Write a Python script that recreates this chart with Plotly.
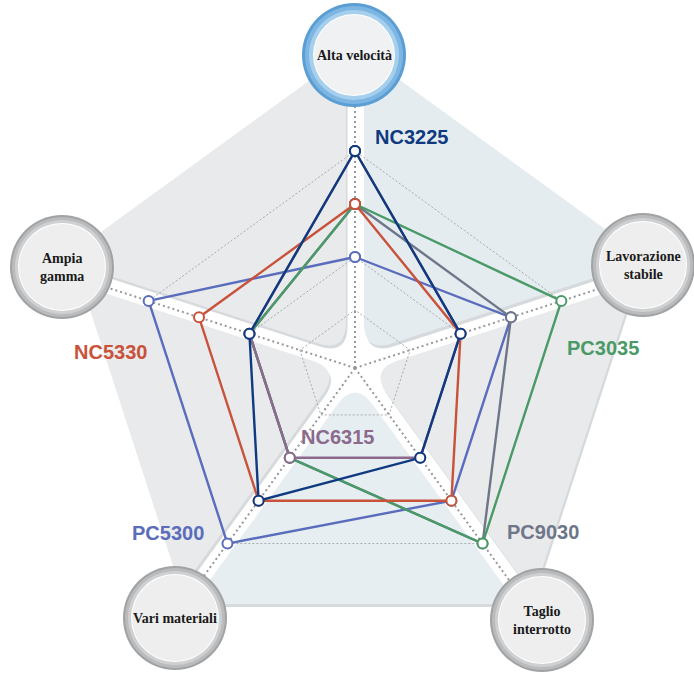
import math
import plotly.graph_objects as go

# categories clockwise from the top
categories = ["Alta velocità", "Lavorazione stabile", "Taglio interrotto", "Vari materiali", "Ampia gamma"]
circle_text = ["Alta velocità", "Lavorazione<br>stabile", "Taglio<br>interrotto", "Vari materiali", "Ampia<br>gamma"]

pc5300 = [2, 3, 3, 4, 4]
pc9030 = [3, 3, 4, 2, 2]
pc3035 = [3, 4, 4, 2, 2]
nc5330 = [3, 2, 3, 3, 3]
nc6315 = [4, 2, 2, 2, 2]
nc3225 = [4, 2, 2, 3, 2]
grid_levels = [1, 2, 3, 4]

# drawing order, bottom first
series = [
    ("PC5300", pc5300, "#5a6dbd"),
    ("PC9030", pc9030, "#6e7689"),
    ("PC3035", pc3035, "#4a9a68"),
    ("NC5330", nc5330, "#c8523a"),
    ("NC6315", nc6315, "#8b6a8d"),
    ("NC3225", nc3225, "#0f3a80"),
]

W, H = 694, 673
CX, CY = 355, 368
UNIT, OFFS = 53.0, 5.0
R0 = -OFFS / UNIT
RPX = 300
RMAX = R0 + RPX / UNIT

fig = go.Figure()

# invisible trace so the pixel-space cartesian axes exist for the background shapes
fig.add_trace(go.Scatter(x=[0, W], y=[0, H], mode="none", hoverinfo="skip", showlegend=False))


def sector_path(theta_a, apothem, w=9, rho=30, dx=0.0, dy=-3.0):
    ta = math.radians(theta_a)
    tb = math.radians(theta_a - 72)
    ua = (math.cos(ta), math.sin(ta))
    ub = (math.cos(tb), math.sin(tb))
    na = (math.sin(ta), -math.cos(ta))
    nb = (-math.sin(tb), math.cos(tb))
    s36, c36 = math.sin(math.radians(36)), math.cos(math.radians(36))
    s0 = w / math.tan(math.radians(36))
    s1 = (apothem - w * s36) / c36

    def pa(s):
        return (s * ua[0] + w * na[0], s * ua[1] + w * na[1])

    def pb(s):
        return (s * ub[0] + w * nb[0], s * ub[1] + w * nb[1])

    apex = pa(s0)
    pts = [pa(s0 + rho), pa(s1), pb(s1), pb(s0 + rho)]

    def px(p):
        return "%.1f,%.1f" % (CX + p[0] + dx, CY - p[1] + dy)

    return ("M" + px(pts[0]) + " L" + px(pts[1]) + " L" + px(pts[2]) + " L" + px(pts[3])
            + " Q" + px(apex) + " " + px(pts[0]) + " Z")


sectors = [
    (90, 257, "#e5ecf0"),
    (18, 241, "#e9eaeb"),
    (-54, 239, "#e7eef2"),
    (-126, 235, "#e9eaeb"),
    (162, 257, "#e9eaeb"),
]
shapes = []
for th, ap, col in sectors:
    shapes.append(dict(type="path", path=sector_path(th, ap, dx=1.5, dy=0.0), xref="x", yref="y",
                       fillcolor="#d6dadd", line=dict(width=0), layer="below"))
for th, ap, col in sectors:
    shapes.append(dict(type="path", path=sector_path(th, ap), xref="x", yref="y",
                       fillcolor=col, line=dict(width=0), layer="below"))

# label badges
badge_pos = [(354, 55), (643, 265), (542, 620), (175, 618), (62, 267)]
for i, (bx, by) in enumerate(badge_pos):
    if i == 0:
        rings = [(52, "#5b9ed4"), (49, "#7db6e2"), (45, "#a6cfee"), (41, "#ffffff"), (40, "#eff1f3")]
    else:
        rings = [(52, "#a0a2a4"), (50, "#b9bbbd"), (47, "#cfd0d1"), (44, "#ffffff"), (43, "#eeeeee")]
    for rr, col in rings:
        shapes.append(dict(type="circle", xref="x", yref="y", x0=bx - rr, x1=bx + rr, y0=by - rr, y1=by + rr,
                           fillcolor=col, line=dict(width=0), layer="above"))

for name, vals, col in series:
    fig.add_trace(go.Scatterpolar(
        r=vals + vals[:1], theta=categories + categories[:1],
        mode="lines+markers",
        line=dict(color=col, width=2.4),
        marker=dict(size=10, color="white", line=dict(color=col, width=2)),
        name=name, hoverinfo="skip", showlegend=False,
    ))

annotations = []
for (bx, by), txt in zip(badge_pos, circle_text):
    annotations.append(dict(x=bx, y=by, xref="x", yref="y", text="<b>" + txt + "</b>", showarrow=False,
                            font=dict(family="Liberation Serif, Times New Roman, serif", size=14, color="#1a1a1a")))

label_pos = {
    "NC3225": (411, 137),
    "NC5330": (110, 352),
    "PC3035": (603, 348),
    "NC6315": (337, 437),
    "PC5300": (168, 533),
    "PC9030": (543, 532),
}
for name, vals, col in series:
    lx, ly = label_pos[name]
    annotations.append(dict(x=lx, y=ly, xref="x", yref="y", text="<b>" + name + "</b>", showarrow=False,
                            font=dict(family="Liberation Sans, Arial, sans-serif", size=20, color=col)))

fig.update_layout(
    width=W, height=H,
    margin=dict(l=0, r=0, t=0, b=0),
    paper_bgcolor="white", plot_bgcolor="rgba(0,0,0,0)",
    xaxis=dict(range=[0, W], visible=False, domain=[0, 1]),
    yaxis=dict(range=[H, 0], visible=False, domain=[0, 1]),
    polar=dict(
        domain=dict(x=[(CX - RPX) / W, (CX + RPX) / W], y=[(H - CY - RPX) / H, (H - CY + RPX) / H]),
        bgcolor="rgba(0,0,0,0)",
        gridshape="linear",
        radialaxis=dict(range=[R0, RMAX], tickvals=grid_levels, showticklabels=False, ticks="",
                        showline=False, gridcolor="#a7aaad", griddash="2px,2px", gridwidth=1),
        angularaxis=dict(rotation=90, direction="clockwise", showticklabels=False, ticks="",
                         showline=False, gridcolor="#96999c", griddash="2px,3px", gridwidth=1.8,
                         categoryorder="array", categoryarray=categories),
    ),
    shapes=shapes,
    annotations=annotations,
    showlegend=False,
)

# the page body has a default 8px margin; drop it so the chart sits at the window origin
fig.write_html("out.html", config={"displayModeBar": False},
               post_script="document.body.style.margin='0px';")
